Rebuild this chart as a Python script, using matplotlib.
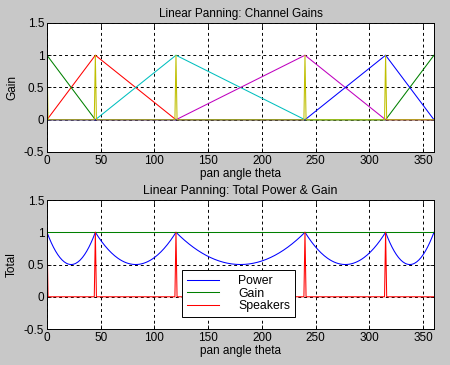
import numpy as np
import matplotlib
matplotlib.use("Agg")
import matplotlib.pyplot as plt

# speaker positions (degrees) and the channel gain breakpoints
speaker_angles = [0, 45, 120, 240, 315]
pan_pts = [0, 45, 120, 240, 315, 360]
gain_spk0 = [1, 0, 0, 0, 0, 1]
gain_spk45 = [0, 1, 0, 0, 0, 0]
gain_spk120 = [0, 0, 1, 0, 0, 0]
gain_spk240 = [0, 0, 0, 1, 0, 0]
gain_spk315 = [0, 0, 0, 0, 1, 0]
total_gain = [1, 1, 1, 1, 1, 1]

x_ticks = [0, 50, 100, 150, 200, 250, 300, 350]
y_ticks = [-0.5, 0, 0.5, 1, 1.5]
y_ticklabels = ["-0.5", "0", "0.5", "1", "1.5"]

# matlab default colour order
c_blue = (0, 0, 1)
c_green = (0, 0.5, 0)
c_red = (1, 0, 0)
c_cyan = (0, 0.75, 0.75)
c_mag = (0.75, 0, 0.75)
c_yel = (0.75, 0.75, 0)

theta = np.arange(0, 361)
speakers = np.isin(theta, speaker_angles).astype(float)
gains = [np.interp(theta, pan_pts, g) for g in
         [gain_spk0, gain_spk45, gain_spk120, gain_spk240, gain_spk315]]
power = np.sum(np.array(gains) ** 2, axis=0)

plt.rcParams['font.family'] = ['Liberation Sans', 'DejaVu Sans']
plt.rcParams['font.size'] = 8.5

fig = plt.figure(figsize=(4.5, 3.65), dpi=100, facecolor='#c8c8c8')
ax1 = fig.add_axes([0.1044, 0.5836, 0.86, 0.3534])
ax2 = fig.add_axes([0.1044, 0.0986, 0.86, 0.3534])


def style(ax):
    ax.set_xlim(0, 360)
    ax.set_ylim(-0.5, 1.5)
    ax.set_xticks(x_ticks)
    ax.set_yticks(y_ticks)
    ax.set_yticklabels(y_ticklabels)
    ax.tick_params(direction='in', length=3, width=0.6, top=True, right=True,
                   labelsize=8.5, pad=2)
    ax.grid(True, color='black', linestyle=(0, (3, 3)), linewidth=0.7)
    ax.set_axisbelow(True)
    for s in ax.spines.values():
        s.set_linewidth(0.7)
    ax.set_xlabel("pan angle theta", labelpad=1)


# Step 1: channel gains
lw = 0.75
ax1.plot(pan_pts, gain_spk45, color=c_red, lw=lw)
ax1.plot(pan_pts, gain_spk0, color=c_green, lw=lw)
ax1.plot(pan_pts, gain_spk120, color=c_cyan, lw=lw)
ax1.plot(pan_pts, gain_spk240, color=c_mag, lw=lw)
ax1.plot(pan_pts, gain_spk315, color=c_blue, lw=lw)
ax1.plot(theta, speakers, color=c_yel, lw=lw)
style(ax1)
ax1.set_title("Linear Panning: Channel Gains", fontsize=8.5, pad=4)
ax1.set_ylabel("Gain", labelpad=4)

# Step 2: total power and gain
ax2.plot(theta, power, color=c_blue, lw=lw, label="Power")
ax2.plot(pan_pts, total_gain, color=c_green, lw=lw, label="Gain")
ax2.plot(theta, speakers, color=c_red, lw=lw, label="Speakers")
style(ax2)
ax2.set_title("Linear Panning: Total Power & Gain", fontsize=8.8, pad=4)
ax2.set_ylabel("Total", labelpad=4)
leg = ax2.legend(loc='lower left', bbox_to_anchor=(0.349, 0.093, 0.291, 0.357),
                 mode='expand', fancybox=False, framealpha=1, edgecolor='black',
                 borderaxespad=0, handlelength=2.6, handletextpad=1.6,
                 labelspacing=0.05, fontsize=8.8, borderpad=0.4)
leg.get_frame().set_linewidth(0.7)

fig.savefig("out.png", dpi=100, facecolor=fig.get_facecolor())
